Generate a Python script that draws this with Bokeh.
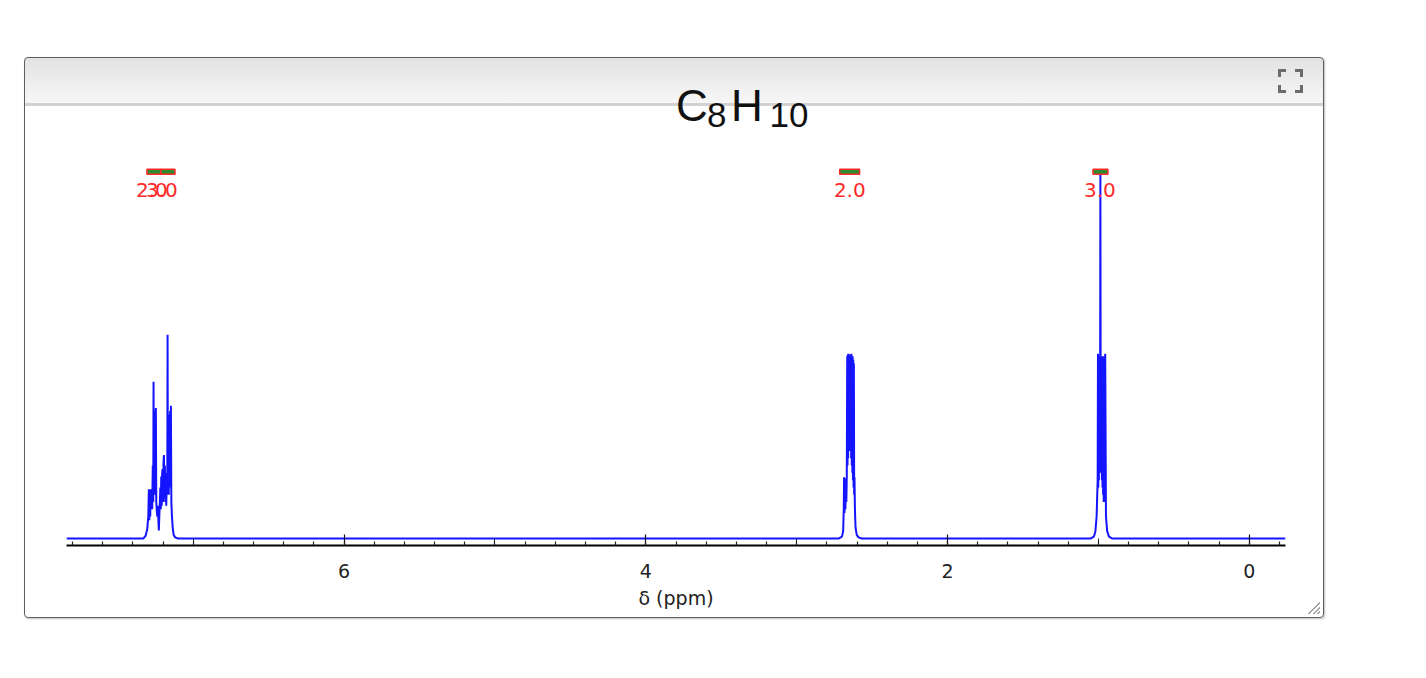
from bokeh.plotting import figure
from bokeh.models import Range1d, FixedTicker, LinearAxis, Spacer
from bokeh.layouts import column, row
from bokeh.core.properties import value
from bokeh.embed import file_html
from bokeh.resources import INLINE

# ---------------- data ----------------
# x axis: chemical shift (ppm); y: relative intensity (% of tallest line)
baseline_ppm = [7.84, -0.24]
baseline_int = [0.0, 0.0]

# aromatic multiplet (~7.13-7.31 ppm)
arom_ppm = [7.33, 7.315, 7.305, 7.298, 7.294, 7.291, 7.288, 7.285, 7.282, 7.279,
            7.276, 7.272, 7.268, 7.265, 7.263, 7.261, 7.259, 7.257, 7.255, 7.253,
            7.251, 7.249, 7.2477, 7.245, 7.242, 7.238, 7.234, 7.230, 7.228, 7.225,
            7.221, 7.218, 7.215, 7.212, 7.209, 7.206, 7.203, 7.200, 7.197, 7.194,
            7.191, 7.188, 7.185, 7.182, 7.179, 7.176, 7.172, 7.170, 7.168, 7.165,
            7.162, 7.159, 7.156, 7.153, 7.1515, 7.148, 7.145, 7.141, 7.136, 7.130,
            7.12, 7.10]
arom_int = [0.0, 0.8, 2.5, 6.0, 13.5, 5.0, 13.0, 6.0, 13.5, 8.0,
            12.0, 8.0, 20.0, 10.0, 43.0, 12.0, 30.0, 12.0, 34.0, 12.0,
            35.0, 14.0, 35.8, 10.0, 8.0, 6.0, 9.0, 4.0, 2.2, 6.0,
            10.0, 14.0, 8.0, 17.0, 9.0, 18.0, 19.0, 10.0, 21.0, 22.9,
            11.0, 20.0, 10.0, 18.0, 9.0, 14.0, 12.0, 55.9, 14.0, 30.0,
            12.0, 34.0, 14.0, 35.0, 14.0, 36.4, 10.0, 6.0, 3.0, 1.0,
            0.3, 0.0]

# CH2 quartet (~2.65 ppm)
ch2_ppm = [2.72, 2.70, 2.692, 2.688, 2.686, 2.683, 2.680, 2.677, 2.674, 2.671,
           2.668, 2.665, 2.663, 2.661, 2.659, 2.657, 2.655, 2.653, 2.651, 2.649,
           2.647, 2.645, 2.643, 2.641, 2.639, 2.637, 2.635, 2.633, 2.631, 2.629,
           2.627, 2.625, 2.623, 2.621, 2.619, 2.617, 2.614, 2.610, 2.602, 2.59,
           2.57]
ch2_int = [0.0, 0.5, 2.0, 8.0, 16.8, 7.0, 16.5, 8.0, 16.0, 10.0,
           17.0, 50.0, 20.0, 50.5, 22.0, 50.7, 24.0, 50.0, 26.0, 50.0,
           26.0, 50.5, 24.0, 50.0, 22.0, 50.7, 20.0, 50.0, 18.0, 50.0,
           16.0, 49.0, 14.0, 48.0, 12.0, 16.8, 8.0, 3.0, 1.0, 0.3,
           0.0]

# CH3 triplet (~0.99 ppm)
ch3_ppm = [1.05, 1.030, 1.020, 1.012, 1.008, 1.005, 1.003, 1.001, 0.999, 0.997,
           0.995, 0.993, 0.991, 0.989, 0.987, 0.985, 0.983, 0.981, 0.979, 0.977,
           0.975, 0.973, 0.971, 0.969, 0.967, 0.965, 0.963, 0.961, 0.959, 0.957,
           0.955, 0.950, 0.942, 0.930, 0.91]
ch3_int = [0.0, 0.5, 2.0, 6.0, 12.0, 16.0, 50.7, 14.0, 50.0, 16.0,
           49.0, 18.0, 50.0, 30.0, 100.0, 30.0, 50.0, 18.0, 48.0, 16.0,
           49.0, 14.0, 50.0, 12.0, 50.0, 10.0, 49.0, 12.0, 50.0, 10.0,
           50.7, 6.0, 2.0, 0.5, 0.0]

# integrals
integral_start = [7.307, 7.214, 2.715, 1.036]
integral_end = [7.214, 7.121, 2.583, 0.937]
integral_text = ["2.0", "3.0", "2.0", "3.0"]
integral_label_ppm = [7.274, 7.208, 2.648, 0.990]

# axis ticks
major_ticks = [0, 2, 4, 6]
odd_ticks = [1, 3, 5, 7]
minor_ticks = [round(-0.2 + 0.2 * i, 1) for i in range(41)]

# title C8H10 (normal / subscript parts)
title_parts = ["C", "8", "H", "10"]
title_is_sub = [False, True, False, True]

# ---------------- figure (the panel) ----------------
W, H = 1300, 561
X_RANGE = (7.84, -0.24)
Y_RANGE = (-1.93, 131.68)
p = figure(width=W, height=H, output_backend="svg", toolbar_location=None,
           x_range=Range1d(*X_RANGE), y_range=Range1d(*Y_RANGE),
           min_border_left=41, min_border_right=40, min_border_top=0,
           min_border_bottom=74, x_axis_location=None, y_axis_location=None)
p.outline_line_color = None
p.background_fill_color = None
p.border_fill_color = None
p.grid.visible = False

def solid(x, y, w, h, c="#6b6b6b"):
    return f"linear-gradient({c}, {c}) {x}px {y}px / {w}px {h}px no-repeat"

# expand icon (corner brackets) + resize grip + header gradient as panel background
IL, IR, IT, IB, ARM, TH = 1253, 1278, 11, 35, 8, 3
layers = []
for (hx, vy) in [(IL, IT), (IR - ARM, IT), (IL, IB - TH), (IR - ARM, IB - TH)]:
    layers.append(solid(hx, vy, ARM, TH))
for (vx, vy) in [(IL, IT), (IR - TH, IT), (IL, IB - ARM), (IR - TH, IB - ARM)]:
    layers.append(solid(vx, vy, TH, ARM))
layers.append("linear-gradient(135deg, transparent 0 52%, #a0a0a0 52% 60%, transparent 60% 70%, "
              "#a0a0a0 70% 78%, transparent 78% 86%, #a0a0a0 86% 94%, transparent 94%) "
              "right 3px bottom 3px / 13px 13px no-repeat")
layers.append("linear-gradient(to bottom, #e2e2e2 0px, #f7f7f7 45px, #d2d2d2 45px, "
              "#d2d2d2 48px, #ffffff 48px, #ffffff 100%)")
p.styles = {
    "border": "1px solid #5e5e5e",
    "border-radius": "4px",
    "box-shadow": "1px 1px 2px rgba(0,0,0,0.25)",
    "background": ", ".join(layers),
}

# medium ticks at odd integers (no labels)
ax_mid = LinearAxis(ticker=FixedTicker(ticks=odd_ticks, minor_ticks=[]))
ax_mid.axis_line_color = None
ax_mid.major_tick_in = 7
ax_mid.major_tick_out = 0
ax_mid.major_tick_line_color = "#222222"
ax_mid.minor_tick_line_color = None
ax_mid.major_label_overrides = {t: "" for t in odd_ticks}
ax_mid.major_label_text_font_size = "0px"
ax_mid.major_label_standoff = 0
p.add_layout(ax_mid, "below")

ax = LinearAxis(ticker=FixedTicker(ticks=major_ticks, minor_ticks=minor_ticks),
                axis_label="δ (ppm)")
ax.axis_line_color = "black"
ax.axis_line_width = 2
ax.major_tick_in = 11
ax.major_tick_out = 0
ax.major_tick_line_color = "#111111"
ax.major_tick_line_width = 1.2
ax.minor_tick_in = 4
ax.minor_tick_out = 0
ax.minor_tick_line_color = "#222222"
ax.minor_tick_line_width = 1.2
ax.major_label_text_font = "DejaVu Sans"
ax.major_label_text_font_size = "19px"
ax.major_label_text_color = "#222222"
ax.major_label_standoff = 18
ax.axis_label_text_font = "DejaVu Sans"
ax.axis_label_text_font_size = "19px"
ax.axis_label_text_font_style = "normal"
ax.axis_label_text_color = "#222222"
ax.axis_label_standoff = 6
p.add_layout(ax, "below")

# spectrum
tr_ppm = [baseline_ppm[0]] + arom_ppm + ch2_ppm + ch3_ppm + [baseline_ppm[1]]
tr_int = [baseline_int[0]] + arom_int + ch2_int + ch3_int + [baseline_int[1]]
p.line(tr_ppm, tr_int, line_color="#1414ff", line_width=2.0)

# integral markers
INTEGRAL_Y = 100.6
mid = [(a + b) / 2 for a, b in zip(integral_start, integral_end)]
wid = [abs(a - b) for a, b in zip(integral_start, integral_end)]
p.rect(x=mid, y=INTEGRAL_Y, width=wid, height=5, height_units="screen",
       fill_color="#2f8a2f", line_color="#ff2a2a", line_width=1.5)
p.text(x=integral_label_ppm, y=INTEGRAL_Y, text=integral_text,
       text_color="#ff2a2a", text_font=value("DejaVu Sans"), text_font_size="20px",
       text_align="center", text_baseline="alphabetic", y_offset=18)

# title: anchored at the top-centre of the plotting area, offsets in pixels
x_mid = (X_RANGE[0] + X_RANGE[1]) / 2
title_dx = [0.0, 31.0, 55.0, 93.5]
for t, sub, dx in zip(title_parts, title_is_sub, title_dx):
    p.text(x=[x_mid], y=[Y_RANGE[1]], text=[t], x_offset=dx,
           y_offset=56 if sub else 47, text_font=value("Liberation Sans"),
           text_font_size="35px" if sub else "44px", text_color="#111111",
           text_align="left", text_baseline="alphabetic")

layout = column(Spacer(height=57), row(Spacer(width=24), p))
open("out.html", "w").write(file_html(layout, INLINE))
